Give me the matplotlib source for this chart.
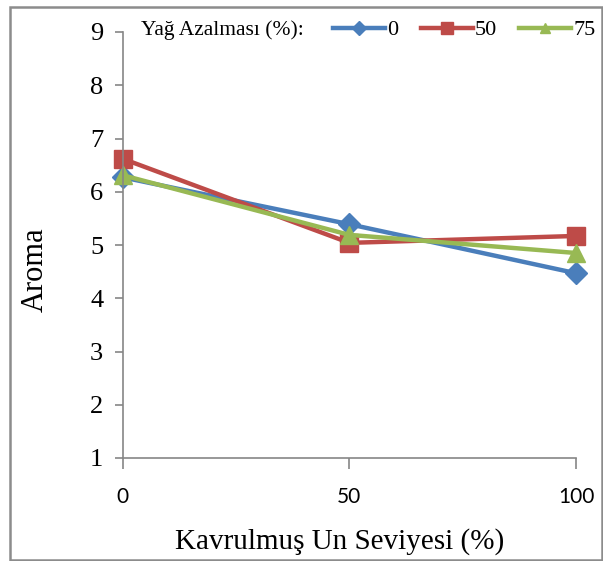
import matplotlib
matplotlib.use("Agg")
import matplotlib.pyplot as plt
from matplotlib.patches import Rectangle

x_levels = [0, 50, 100]
series_names = ["0", "50", "75"]
aroma_0 = [6.27, 5.39, 4.47]
aroma_50 = [6.62, 5.04, 5.17]
aroma_75 = [6.31, 5.19, 4.85]
y_ticks = [1, 2, 3, 4, 5, 6, 7, 8, 9]

colors = ["#4A7EBB", "#BE4B48", "#98B954"]
markers = ["D", "s", "^"]
msizes = [11.5, 13.5, 13]

fig = plt.figure(figsize=(6.03, 5.61), dpi=100)
ax = fig.add_axes([122.7/603, 1-458/561, (576-122.7)/603, (458-32)/561])

for vals, name, c, m, ms in zip([aroma_0, aroma_50, aroma_75], series_names, colors, markers, msizes):
    ax.plot(x_levels, vals, color=c, lw=3.2, marker=m, markersize=ms, label=name, clip_on=False)

ax.set_xlim(0, 100)
ax.set_ylim(1, 9)
ax.set_xticks(x_levels)
ax.set_yticks(y_ticks)
ax.set_xticklabels([str(v) for v in x_levels], fontfamily="Lato", fontsize=15)
ax.set_yticklabels([str(v) for v in y_ticks], fontfamily="Liberation Serif", fontsize=19)
for s in ["top", "right"]:
    ax.spines[s].set_visible(False)
for s in ["left", "bottom"]:
    ax.spines[s].set_color("#868686")
    ax.spines[s].set_linewidth(1.2)
ax.tick_params(axis="y", direction="out", length=6, color="#868686", width=1.2, pad=8)
ax.tick_params(axis="x", direction="out", length=8, color="#868686", width=1.2, pad=13)

ax.set_xlabel("Kavrulmuş Un Seviyesi (%)", fontfamily="Liberation Serif", fontsize=21, va="center")
ax.xaxis.set_label_coords((340-122.7)/453.3, -(542-458)/426)
ax.set_ylabel("Aroma", fontfamily="Liberation Serif", fontsize=22, va="center")
ax.yaxis.set_label_coords((35-122.7)/453.3, (458-270)/426)

fig.text(141/603, 1-30/561, "Yağ Azalması (%):", fontfamily="Liberation Serif", fontsize=15.5,
         va="center", ha="left")
leg = fig.legend(loc="center left", bbox_to_anchor=(333/603, 1-30/561), ncol=3, frameon=False,
                 borderpad=0, borderaxespad=0, handlelength=2.34, handletextpad=0.1,
                 columnspacing=1.0, markerscale=0.6,
                 prop={"family": "Liberation Serif", "size": 16})

fig.patches.append(Rectangle((10/603, 1-560/561), 592/603, 553/561, transform=fig.transFigure,
                             fill=False, edgecolor="#8c8c8c", lw=1.8))

fig.savefig("out.png", dpi=100)
